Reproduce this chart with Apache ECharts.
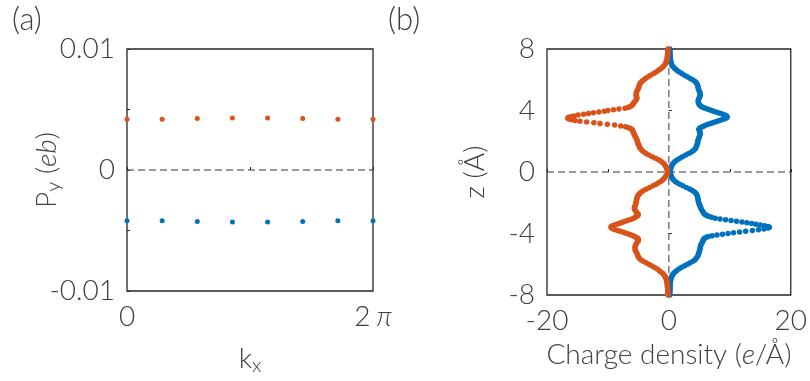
<!DOCTYPE html>
<html>
<head>
<meta charset="utf-8">
<script src="https://cdn.jsdelivr.net/npm/echarts@6/dist/echarts.min.js"></script>
<style>
  html, body { margin: 0; padding: 0; background: #fff; }
  #main { width: 810px; height: 381px; }
</style>
</head>
<body>
<div id="main"></div>
<script>
// panel (a): polarization vs kx
const kx = [0, 0.8976, 1.7952, 2.6928, 3.5904, 4.4880, 5.3856, 6.2832];
const pyOrange = [0.0042, 0.0042, 0.00425, 0.0043, 0.0043, 0.00425, 0.0042, 0.0042];
const pyBlue = [-0.0042, -0.0042, -0.00425, -0.0043, -0.0043, -0.00425, -0.0042, -0.0042];

// panel (b): charge density profiles along z
const zGrid = [
  8.0, 7.9, 7.8, 7.7, 7.6, 7.5, 7.4, 7.3, 7.2, 7.1, 7.0, 6.9, 6.8, 6.7, 6.6, 6.5, 6.4, 6.3, 6.2, 6.1,
  6.0, 5.9, 5.8, 5.7, 5.6, 5.5, 5.4, 5.3, 5.2, 5.1, 5.0, 4.9, 4.8, 4.7, 4.6, 4.5, 4.4,
  4.35, 4.3, 4.25, 4.2, 4.15, 4.1, 4.05, 4.0, 3.95, 3.9, 3.85, 3.8, 3.75, 3.7, 3.65, 3.6, 3.55,
  3.5, 3.45, 3.4, 3.35, 3.3, 3.25, 3.2, 3.15, 3.1, 3.05, 3.0, 2.95, 2.9, 2.85, 2.8, 2.75,
  2.7, 2.6, 2.5, 2.4, 2.3, 2.2, 2.1, 2.0, 1.9, 1.8, 1.7, 1.6, 1.5, 1.4, 1.3, 1.2, 1.1, 1.0,
  0.9, 0.8, 0.7, 0.6, 0.5, 0.4, 0.3, 0.2, 0.1, 0.0,
  -0.1, -0.2, -0.3, -0.4, -0.5, -0.6, -0.7, -0.8, -0.9, -1.0, -1.1, -1.2, -1.3, -1.4, -1.5,
  -1.6, -1.7, -1.8, -1.9, -2.0, -2.1, -2.2, -2.3, -2.4, -2.5, -2.6, -2.7,
  -2.75, -2.8, -2.85, -2.9, -2.95, -3.0, -3.05, -3.1, -3.15, -3.2, -3.25, -3.3, -3.35, -3.4,
  -3.45, -3.5, -3.55, -3.6, -3.65, -3.7, -3.75, -3.8, -3.85, -3.9, -3.95, -4.0, -4.05, -4.1,
  -4.15, -4.2, -4.25, -4.3, -4.35,
  -4.4, -4.5, -4.6, -4.7, -4.8, -4.9, -5.0, -5.1, -5.2, -5.3, -5.4, -5.5, -5.6, -5.7, -5.8,
  -5.9, -6.0, -6.1, -6.2, -6.3, -6.4, -6.5, -6.6, -6.7, -6.8, -6.9, -7.0, -7.1, -7.2, -7.3,
  -7.4, -7.5, -7.6, -7.7, -7.8, -7.9, -8.0
];
const rhoOrange = [
  -0.15, -0.15, -0.18, -0.2, -0.22, -0.25, -0.28, -0.32, -0.4, -0.5, -0.65, -0.85, -1.1, -1.4, -1.75, -2.1, -2.5, -3.0, -3.4, -3.8,
  -4.1, -4.4, -4.65, -4.8, -4.9, -4.95, -5.05, -5.2, -5.3, -5.35, -5.4, -5.3, -5.25, -5.35, -5.55, -5.75, -5.9,
  -6.0, -6.2, -6.45, -6.7, -7.2, -8.2, -9.1, -10.0, -10.6, -11.5, -12.4, -13.2, -14.0, -14.9, -15.6, -16.1, -16.5,
  -16.6, -16.4, -16.0, -15.4, -14.6, -13.5, -12.3, -11.3, -10.1, -8.9, -7.9, -7.1, -6.7, -6.4, -6.2, -6.05,
  -5.95, -5.85, -5.75, -5.65, -5.5, -5.35, -5.25, -5.2, -5.1, -5.0, -4.9, -4.8, -4.6, -4.4, -4.1, -3.75, -3.3, -2.75,
  -2.2, -1.7, -1.3, -1.0, -0.75, -0.55, -0.42, -0.32, -0.25, -0.2,
  -0.3, -0.4, -0.55, -0.75, -1.0, -1.3, -1.7, -2.1, -2.6, -3.15, -3.7, -4.15, -4.5, -4.8, -5.0,
  -5.15, -5.25, -5.3, -5.35, -5.4, -5.45, -5.55, -5.65, -5.65, -5.5, -5.35, -5.15,
  -5.05, -5.05, -5.15, -5.35, -5.55, -5.75, -6.05, -6.4, -6.8, -7.15, -7.5, -7.85, -8.2, -8.6,
  -8.95, -9.25, -9.45, -9.5, -9.4, -9.15, -8.8, -8.4, -8.0, -7.6, -7.25, -6.9, -6.55, -6.2,
  -5.9, -5.65, -5.4, -5.2, -5.05,
  -5.0, -5.05, -5.25, -5.4, -5.5, -5.55, -5.55, -5.5, -5.35, -5.25, -5.15, -5.05, -4.9, -4.6, -4.2,
  -3.75, -3.3, -2.85, -2.4, -1.95, -1.6, -1.3, -1.0, -0.8, -0.62, -0.5, -0.42, -0.35, -0.3, -0.27,
  -0.24, -0.22, -0.2, -0.18, -0.17, -0.16, -0.15
];
const rhoBlue = [
  0.15, 0.16, 0.17, 0.18, 0.2, 0.22, 0.24, 0.27, 0.3, 0.36, 0.45, 0.6, 0.8, 1.05, 1.35, 1.7, 2.1, 2.55, 3.0, 3.45,
  3.9, 4.25, 4.5, 4.65, 4.75, 4.8, 4.85, 4.95, 5.05, 5.15, 5.15, 5.05, 4.95, 4.85, 4.8, 4.85, 4.95,
  5.05, 5.2, 5.4, 5.65, 5.95, 6.3, 6.65, 7.0, 7.35, 7.7, 8.1, 8.5, 8.85, 9.2, 9.45, 9.55, 9.5,
  9.35, 9.05, 8.7, 8.3, 7.95, 7.55, 7.2, 6.85, 6.45, 6.1, 5.75, 5.5, 5.25, 5.05, 4.95, 4.95,
  5.0, 5.1, 5.15, 5.1, 5.0, 4.9, 4.8, 4.75, 4.7, 4.65, 4.55, 4.45, 4.3, 4.05, 3.7, 3.25, 2.75, 2.25,
  1.8, 1.4, 1.05, 0.8, 0.6, 0.45, 0.35, 0.28, 0.22, 0.2,
  0.25, 0.32, 0.42, 0.55, 0.75, 1.0, 1.35, 1.8, 2.3, 2.85, 3.4, 3.85, 4.2, 4.45, 4.6,
  4.7, 4.75, 4.8, 4.85, 4.9, 5.0, 5.1, 5.2, 5.3, 5.45, 5.6, 5.75,
  5.9, 6.05, 6.3, 6.6, 7.0, 7.6, 8.4, 9.3, 10.2, 11.1, 12.0, 12.8, 13.6, 14.3,
  15.0, 15.7, 16.3, 16.5, 16.3, 15.6, 14.7, 13.7, 12.6, 11.6, 10.6, 9.7, 8.8, 7.9,
  7.1, 6.5, 6.15, 5.9, 5.75,
  5.65, 5.55, 5.45, 5.3, 5.2, 5.15, 5.1, 5.05, 4.95, 4.9, 4.8, 4.7, 4.5, 4.3, 3.95,
  3.5, 3.05, 2.6, 2.1, 1.7, 1.3, 1.0, 0.75, 0.58, 0.45, 0.36, 0.3, 0.26, 0.23, 0.21,
  0.2, 0.19, 0.18, 0.17, 0.16, 0.15, 0.15
];

const ORANGE = '#D95319';
const BLUE = '#0072BD';
const TXT = '#404040';
const FONT = 'Lato';
const FS = 28;

const chart = echarts.init(document.getElementById('main'));

const txt = (extra) => Object.assign({ color: TXT, fontFamily: FONT, fontWeight: 300, fontSize: FS }, extra || {});
const tickStyle = { show: true, inside: true, length: 3, lineStyle: { color: '#262626', width: 1 } };
const dash = { color: '#333', width: 1, type: [7, 4] };
const subStyle = txt({ fontSize: 20, verticalAlign: 'bottom', lineHeight: 18 });

const option = {
  animation: false,
  backgroundColor: '#fff',
  title: [
    { text: '(a)', left: 7, top: -1, textStyle: txt({ fontSize: 31 }) },
    { text: '(b)', left: 383, top: -1, textStyle: txt({ fontSize: 31 }) }
  ],
  grid: [
    { left: 127, top: 49, width: 246, height: 246, show: true, borderColor: '#262626', borderWidth: 1.3, backgroundColor: 'transparent' },
    { left: 547, top: 49, width: 246, height: 246, show: true, borderColor: '#262626', borderWidth: 1.3, backgroundColor: 'transparent' }
  ],
  xAxis: [
    {
      gridIndex: 0, type: 'value', min: 0, max: 2 * Math.PI, interval: Math.PI,
      axisLine: { show: false }, axisTick: tickStyle, splitLine: { show: false },
      axisLabel: Object.assign(txt(), {
        margin: 12,
        formatter: v => (v < 0.01 ? '0' : (v > 6 ? '2{pi|π}' : '')),
        rich: { pi: txt({ fontStyle: 'italic', padding: [0, 0, 0, 6] }) }
      }),
      name: 'k{sub|x}', nameLocation: 'middle', nameGap: 51, nameMoveOverlap: false,
      nameTextStyle: Object.assign(txt({ lineHeight: 34 }), { rich: { sub: subStyle } })
    },
    {
      gridIndex: 1, type: 'value', min: -20, max: 20, interval: 10,
      axisLine: { show: false }, axisTick: tickStyle, splitLine: { show: false },
      axisLabel: Object.assign(txt(), { margin: 12, formatter: v => (v % 20 === 0 ? String(v) : '') }),
      name: 'Charge density ({it|e}/Å)', nameLocation: 'middle', nameGap: 46, nameMoveOverlap: false,
      nameTextStyle: Object.assign(txt(), { rich: { it: txt({ fontStyle: 'italic' }) } })
    }
  ],
  yAxis: [
    {
      gridIndex: 0, type: 'value', min: -0.01, max: 0.01, interval: 0.005,
      axisLine: { show: false }, axisTick: tickStyle, splitLine: { show: false },
      axisLabel: Object.assign(txt(), {
        margin: 12,
        formatter: v => (Math.abs(v) < 1e-9 ? '0' : (Math.abs(Math.abs(v) - 0.01) < 1e-9 ? (v < 0 ? '-0.01' : '0.01') : ''))
      }),
      name: 'P{sub|y} ({it|eb})', nameLocation: 'middle', nameRotate: 90, nameGap: 63, nameMoveOverlap: false,
      nameTextStyle: Object.assign(txt({ lineHeight: 34 }), {
        rich: { sub: subStyle, it: txt({ fontStyle: 'italic' }) }
      })
    },
    {
      gridIndex: 1, type: 'value', min: -8, max: 8, interval: 4,
      axisLine: { show: false }, axisTick: tickStyle, splitLine: { show: false },
      axisLabel: Object.assign(txt(), { margin: 12 }),
      name: 'z (Å)', nameLocation: 'middle', nameRotate: 90, nameGap: 58, nameMoveOverlap: false,
      nameTextStyle: txt()
    }
  ],
  series: [
    {
      name: 'zero a', type: 'line', xAxisIndex: 0, yAxisIndex: 0, z: 1,
      data: [[0, 0], [2 * Math.PI, 0]], symbol: 'none', lineStyle: dash, silent: true
    },
    {
      name: 'Py orange', type: 'scatter', xAxisIndex: 0, yAxisIndex: 0, z: 3,
      symbolSize: 5, itemStyle: { color: ORANGE, opacity: 1 },
      data: kx.map((k, i) => [k, pyOrange[i]])
    },
    {
      name: 'Py blue', type: 'scatter', xAxisIndex: 0, yAxisIndex: 0, z: 3,
      symbolSize: 5, itemStyle: { color: BLUE, opacity: 1 },
      data: kx.map((k, i) => [k, pyBlue[i]])
    },
    {
      name: 'zero z', type: 'line', xAxisIndex: 1, yAxisIndex: 1, z: 1,
      data: [[-20, 0], [20, 0]], symbol: 'none', lineStyle: dash, silent: true
    },
    {
      name: 'zero rho', type: 'line', xAxisIndex: 1, yAxisIndex: 1, z: 1,
      data: [[0, -8], [0, 8]], symbol: 'none', lineStyle: dash, silent: true
    },
    {
      name: 'rho blue', type: 'scatter', xAxisIndex: 1, yAxisIndex: 1, z: 3,
      symbolSize: 5.5, itemStyle: { color: BLUE, opacity: 1 },
      data: zGrid.map((z, i) => [rhoBlue[i], z])
    },
    {
      name: 'rho orange', type: 'scatter', xAxisIndex: 1, yAxisIndex: 1, z: 4,
      symbolSize: 5.5, itemStyle: { color: ORANGE, opacity: 1 },
      data: zGrid.map((z, i) => [rhoOrange[i], z])
    }
  ]
};

chart.setOption(option);
</script>
</body>
</html>
